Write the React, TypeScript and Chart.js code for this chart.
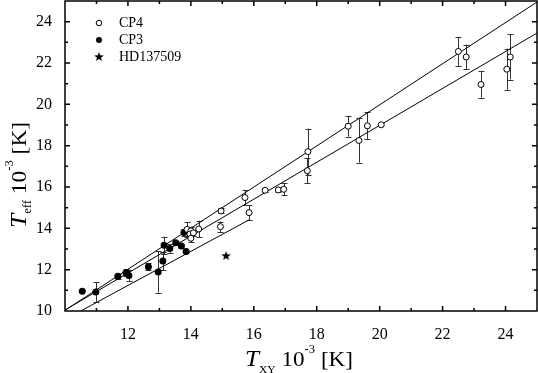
import React, { useEffect, useRef } from 'react';
import { Chart, registerables } from 'chart.js';

Chart.register(...registerables);

// ---- data ----
const cp4X = [13.88, 14.0, 13.97, 14.08, 14.0, 14.25, 14.94, 14.96, 15.72, 15.85, 16.36, 16.78, 16.95, 17.72, 17.7, 19.0, 19.34, 19.61, 20.05, 22.5, 22.75, 23.22, 24.04, 24.15];
const cp4Y = [13.95, 13.88, 13.72, 13.78, 13.52, 13.97, 14.08, 14.84, 15.49, 14.76, 15.84, 15.86, 15.89, 17.71, 16.79, 18.94, 18.25, 18.96, 19.01, 22.56, 22.29, 20.96, 21.7, 22.29];
const cp4Err = [0.35, 0.2, 0.15, 0.15, 0.2, 0.4, 0.25, 0.12, 0.36, 0.36, 0.08, 0.1, 0.28, 1.12, 0.6, 0.5, 1.07, 0.65, 0, 0.7, 0.6, 0.63, 1.0, 1.09];

const cp3X = [10.55, 10.98, 11.68, 11.94, 12.03, 12.65, 12.96, 13.11, 13.15, 13.33, 13.52, 13.7, 13.78, 13.85];
const cp3Y = [10.95, 10.92, 11.68, 11.85, 11.72, 12.14, 11.89, 12.42, 13.18, 13.02, 13.3, 13.15, 13.8, 12.88];
const cp3Err = [0, 0.47, 0.12, 0.17, 0.28, 0.18, 1.0, 0.45, 0.42, 0.2, 0.1, 0.1, 0.15, 0];

const starX = [15.12];
const starY = [12.66];

const fitUpperX = [10, 25];
const fitUpperY = [10.03, 24.95];
const fitMidX = [10, 25];
const fitMidY = [10.05, 23.45];
const fitLowX = [10.5, 15.85];
const fitLowY = [10, 14.41];

const seriesLabels = ['CP4', 'CP3', 'HD137509'];
const xMin = 10, xMax = 25, yMin = 10, yMax = 25;
const hiddenXTickLabels = [10];

const SERIF = "'Liberation Serif', 'Times New Roman', serif";

function makeStar(outer: number, inner: number): HTMLCanvasElement {
  const size = Math.ceil(outer * 2 + 2);
  const c = document.createElement('canvas');
  c.width = size;
  c.height = size;
  const g = c.getContext('2d')!;
  const cx = size / 2, cy = size / 2;
  g.beginPath();
  for (let i = 0; i < 10; i++) {
    const r = i % 2 === 0 ? outer : inner;
    const a = -Math.PI / 2 + (i * Math.PI) / 5;
    const px = cx + r * Math.cos(a);
    const py = cy + r * Math.sin(a);
    if (i === 0) g.moveTo(px, py); else g.lineTo(px, py);
  }
  g.closePath();
  g.fillStyle = '#000';
  g.fill();
  return c;
}

type Piece = { text: string; size: number; italic?: boolean; dy: number };

function drawRich(ctx: CanvasRenderingContext2D, pieces: Piece[], targetWidth: number) {
  let natural = 0;
  const widths: number[] = [];
  for (const p of pieces) {
    ctx.font = `${p.italic ? 'italic ' : ''}${p.size}px ${SERIF}`;
    const w = ctx.measureText(p.text).width;
    widths.push(w);
    natural += w;
  }
  const sx = targetWidth / natural;
  ctx.scale(sx, 1);
  let x = 0;
  pieces.forEach((p, i) => {
    ctx.font = `${p.italic ? 'italic ' : ''}${p.size}px ${SERIF}`;
    ctx.fillText(p.text, x, p.dy);
    x += widths[i];
  });
}

const decorPlugin = {
  id: 'decor',
  beforeDatasetsDraw(chart: any) {
    const { ctx, chartArea, scales } = chart;
    const xs = scales.x, ys = scales.y;
    ctx.save();
    ctx.beginPath();
    ctx.rect(chartArea.left, chartArea.top, chartArea.right - chartArea.left, chartArea.bottom - chartArea.top);
    ctx.clip();
    ctx.strokeStyle = '#333';
    ctx.lineWidth = 1;
    chart.data.datasets.forEach((ds: any) => {
      if (!ds.errorBars) return;
      ds.data.forEach((pt: any) => {
        if (!pt.err) return;
        const px = Math.round(xs.getPixelForValue(pt.x)) + 0.5;
        const t = ys.getPixelForValue(pt.y + pt.err);
        const b = ys.getPixelForValue(pt.y - pt.err);
        ctx.beginPath();
        ctx.moveTo(px, t);
        ctx.lineTo(px, b);
        ctx.moveTo(px - 3, Math.round(t) + 0.5);
        ctx.lineTo(px + 3, Math.round(t) + 0.5);
        ctx.moveTo(px - 3, Math.round(b) + 0.5);
        ctx.lineTo(px + 3, Math.round(b) + 0.5);
        ctx.stroke();
      });
    });
    ctx.restore();
  },
  afterDraw(chart: any) {
    const { ctx, chartArea, scales } = chart;
    const xs = scales.x, ys = scales.y;
    const { left, right, top, bottom } = chartArea;
    ctx.save();
    ctx.strokeStyle = '#000';
    ctx.lineWidth = 1.5;
    ctx.strokeRect(left, top, right - left, bottom - top);

    // inward ticks on all four sides
    ctx.lineWidth = 1.5;
    ctx.beginPath();
    for (let v = xMin + 1; v < xMax; v++) {
      const len = v % 2 === 0 ? 5 : 3;
      const px = xs.getPixelForValue(v);
      ctx.moveTo(px, bottom);
      ctx.lineTo(px, bottom - len);
      ctx.moveTo(px, top);
      ctx.lineTo(px, top + len);
    }
    for (let v = yMin + 1; v < yMax; v++) {
      const len = v % 2 === 0 ? 5 : 3;
      const py = ys.getPixelForValue(v);
      ctx.moveTo(left, py);
      ctx.lineTo(left + len, py);
      ctx.moveTo(right, py);
      ctx.lineTo(right - len, py);
    }
    ctx.stroke();

    // legend
    const rowY = [23, 40, 57];
    const symX = 99;
    const textX = 119;
    ctx.font = `14px ${SERIF}`;
    ctx.fillStyle = '#000';
    ctx.textBaseline = 'middle';
    ctx.textAlign = 'left';
    chart.data.datasets.forEach((ds: any) => {
      if (!ds.inLegend) return;
      const yy = rowY[ds.inLegend - 1];
      if (ds.legendSymbol === 'open') {
        ctx.beginPath();
        ctx.arc(symX, yy, 2.8, 0, Math.PI * 2);
        ctx.fillStyle = '#fff';
        ctx.fill();
        ctx.lineWidth = 1;
        ctx.strokeStyle = '#000';
        ctx.stroke();
      } else if (ds.legendSymbol === 'filled') {
        ctx.beginPath();
        ctx.arc(symX, yy, 3, 0, Math.PI * 2);
        ctx.fillStyle = '#000';
        ctx.fill();
      } else if (ds.legendSymbol === 'star') {
        const img = ds.pointStyle as HTMLCanvasElement;
        ctx.drawImage(img, symX - img.width / 2, yy - img.height / 2);
      }
      ctx.fillStyle = '#000';
      ctx.fillText(ds.label, textX, yy + 0.5);
    });

    // axis titles
    ctx.fillStyle = '#000';
    ctx.textBaseline = 'alphabetic';
    ctx.save();
    ctx.translate(245, 365.5);
    drawRich(ctx, [
      { text: 'T', size: 24, italic: true, dy: 0 },
      { text: 'XY', size: 11, dy: 7 },
      { text: ' 10', size: 22, dy: 0 },
      { text: '-3', size: 12, dy: -13 },
      { text: ' [K]', size: 22, dy: 0 },
    ], 108);
    ctx.restore();

    ctx.save();
    ctx.translate(25.5, 228);
    ctx.rotate(-Math.PI / 2);
    drawRich(ctx, [
      { text: 'T', size: 24, italic: true, dy: 0 },
      { text: 'eff', size: 12, dy: 5 },
      { text: ' 10', size: 22, dy: 0 },
      { text: '-3', size: 12, dy: -13 },
      { text: ' [K]', size: 22, dy: 0 },
    ], 106);
    ctx.restore();

    ctx.restore();
  },
};

export default function App() {
  const ref = useRef<HTMLCanvasElement | null>(null);
  useEffect(() => {
    if (!ref.current) return;
    const star = makeStar(5, 2.1);
    const toPts = (xs: number[], ys: number[], es?: number[]) =>
      xs.map((x, i) => ({ x, y: ys[i], err: es ? es[i] : 0 }));
    const lineDs = (xs: number[], ys: number[]) => ({
      type: 'line' as const,
      data: toPts(xs, ys),
      borderColor: '#000',
      borderWidth: 1,
      pointRadius: 0,
      fill: false,
      tension: 0,
      showLine: true,
    });
    const chart = new Chart(ref.current, {
      type: 'scatter',
      data: {
        datasets: [
          {
            label: seriesLabels[0],
            data: toPts(cp4X, cp4Y, cp4Err),
            pointStyle: 'circle',
            pointRadius: 3,
            pointBackgroundColor: '#fff',
            pointBorderColor: '#000',
            pointBorderWidth: 1,
            errorBars: true,
            inLegend: 1,
            legendSymbol: 'open',
          } as any,
          {
            label: seriesLabels[1],
            data: toPts(cp3X, cp3Y, cp3Err),
            pointStyle: 'circle',
            pointRadius: 3.5,
            pointBackgroundColor: '#000',
            pointBorderColor: '#000',
            pointBorderWidth: 0,
            errorBars: true,
            inLegend: 2,
            legendSymbol: 'filled',
          } as any,
          {
            label: seriesLabels[2],
            data: toPts(starX, starY),
            pointStyle: star,
            pointRadius: 5,
            inLegend: 3,
            legendSymbol: 'star',
          } as any,
          lineDs(fitUpperX, fitUpperY) as any,
          lineDs(fitMidX, fitMidY) as any,
          lineDs(fitLowX, fitLowY) as any,
        ],
      },
      options: {
        animation: false,
        responsive: false,
        devicePixelRatio: 1,
        layout: { autoPadding: false, padding: { top: 1, right: 1, left: 0, bottom: 0 } },
        plugins: { legend: { display: false }, tooltip: { enabled: false } },
        scales: {
          x: {
            type: 'linear',
            min: xMin,
            max: xMax,
            grid: { display: false },
            border: { display: false },
            ticks: {
              stepSize: 2,
              includeBounds: false,
              autoSkip: false,
              maxRotation: 0,
              padding: 6,
              color: '#000',
              font: { family: SERIF, size: 16 },
              callback: (v: any) => (hiddenXTickLabels.includes(Number(v)) ? '' : String(v)),
            },
            afterFit: (s: any) => { s.height = 62; s.paddingLeft = 0; s.paddingRight = 0; },
          },
          y: {
            type: 'linear',
            min: yMin,
            max: yMax,
            grid: { display: false },
            border: { display: false },
            ticks: {
              stepSize: 2,
              includeBounds: false,
              autoSkip: false,
              padding: 5,
              color: '#000',
              font: { family: SERIF, size: 16 },
              callback: (v: any) => String(v),
            },
            afterFit: (s: any) => { s.width = 65; s.paddingTop = 0; s.paddingBottom = 0; },
          },
        },
      } as any,
      plugins: [decorPlugin],
    });
    return () => chart.destroy();
  }, []);
  return (
    <div style={{ position: 'absolute', left: 0, top: 0, width: 538, height: 373, background: '#fff' }}>
      <canvas ref={ref} width={538} height={373} style={{ display: 'block' }} />
    </div>
  );
}
